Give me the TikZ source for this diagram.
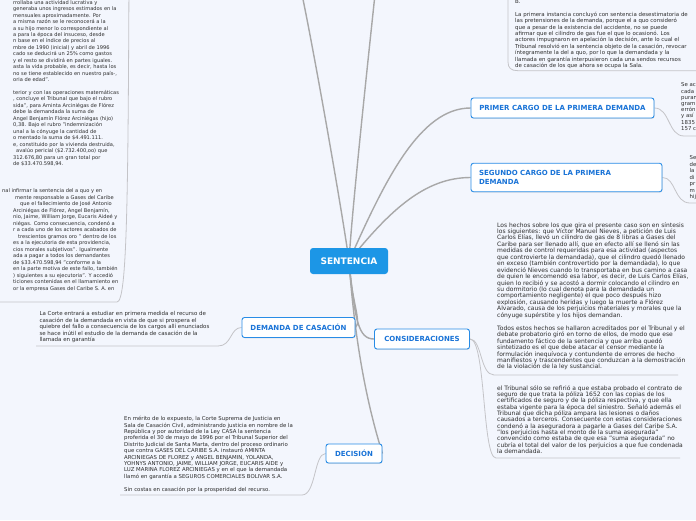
\documentclass[tikz,border=0pt]{standalone}
\usepackage{fontspec}
\setmainfont{DejaVu Sans}
\usetikzlibrary{shadows}
\pgfdeclarelayer{background}
\pgfsetlayers{background,main}
\definecolor{bgc}{RGB}{243,246,253}
\definecolor{topicblue}{RGB}{40,140,230}
\definecolor{topictext}{RGB}{25,115,215}
\definecolor{centralblue}{RGB}{28,150,230}
\definecolor{connc}{RGB}{168,168,168}
\definecolor{thinc}{RGB}{196,196,200}
\definecolor{bodytext}{RGB}{45,45,45}
\begin{document}
\begin{tikzpicture}[x=1pt,y=-1pt,
  txt/.style={font=\fontsize{6}{6.45}\selectfont, align=left, inner sep=0pt, anchor=north west, text=bodytext},
  topic/.style={draw=topicblue, line width=0.9pt, fill=white, rounded corners=2.5pt, text=topictext,
    font=\fontsize{7}{9.4}\selectfont\bfseries, inner sep=0pt,
    drop shadow={shadow xshift=0.5pt, shadow yshift=-0.8pt, opacity=0.22}},
  central/.style={fill=centralblue, rounded corners=3pt, text=white, font=\fontsize{9}{10}\selectfont\bfseries,
    minimum width=78pt, minimum height=26pt, inner sep=0pt},
  mainc/.style={draw=connc, line width=1.4pt},
  subc/.style={draw=thinc, line width=0.8pt}
]
\useasboundingbox (0,0) rectangle (696,520);

% ---------- topic nodes ----------
\node[central] (sent) at (349,261) {SENTENCIA};
\node[topic, minimum width=183pt, minimum height=20pt] (prim) at (562.5,108) {PRIMER CARGO DE LA PRIMERA DEMANDA};
\node[topic, minimum width=191pt, minimum height=28.5pt, align=left, text width=175pt] (seg) at (566.5,177.5) {SEGUNDO CARGO DE LA PRIMERA\\DEMANDA};
\node[topic, minimum width=113pt, minimum height=20pt] (dem) at (298.5,327.5) {DEMANDA DE CASACIÓN};
\node[topic, minimum width=95pt, minimum height=20pt] (cons) at (422,339) {CONSIDERACIONES};
\node[topic, minimum width=56pt, minimum height=19pt] (dec) at (354,453.5) {DECISIÓN};

% ---------- text blocks ----------
\node[txt, font=\fontsize{5.1}{6.45}\selectfont] (lb1) at (13,-0.2) {\rule{0pt}{4.2pt}rrollaba una actividad lucrativa y\\
generaba unos ingresos estimados en la\\
mensuales aproximadamente. Por\\
a misma razón se le reconocerá a la\\
a su hijo menor lo correspondiente al\\
a para la época del insuceso, desde\\
n base en el índice de precios al\\
mbre de 1990 (inicial) y abril de 1996\\
cado se deducirá un 25\% como gastos\\
y el resto se dividirá en partes iguales.\\
asta la vida probable, es decir, hasta los\\
no se tiene establecido en nuestro país-,\\
oria de edad".\\[6.45pt]
terior y con las operaciones matemáticas\\
, concluye el Tribunal que bajo el rubro\\
sida", para Aminta Arciniégas de Flórez\\
debe la demandada la suma de\\
Angel Benjamín Flórez Arciniégas (hijo)\\
0,38. Bajo el rubro "indemnización\\
unal a la cónyuge la cantidad de\\
o mentado la suma de \$4.491.111.\\
e, constituido por la vivienda destruida,\\
\hspace*{3pt}avalúo pericial (\$2.732.400,oo) que\\
312.676,80 para un gran total por\\
de \$33.470.598,94.};

\node[txt, font=\fontsize{5.1}{6.5}\selectfont] (lb2) at (2,188.2) {\rule{0pt}{4.2pt}nal infirmar la sentencia del a quo y en\\
\hspace*{13pt}mente responsable a Gases del Caribe\\
\hspace*{18pt}que el fallecimiento de José Antonio\\
\hspace*{11pt}Arciniégas de Flórez, Angel Benjamín,\\
\hspace*{11pt}nio, Jaime, William Jorge, Eucaris Aideé y\\
\hspace*{11pt}niégas. Como consecuencia, condenó a\\
\hspace*{11pt}r a cada uno de los actores acabados de\\
\hspace*{16pt}trescientos gramos oro " dentro de los\\
\hspace*{11pt}es a la ejecutoria de esta providencia,\\
\hspace*{11pt}cios morales subjetivos". Igualmente\\
\hspace*{11pt}ada a pagar a todos los demandantes\\
\hspace*{11pt}de \$33.470.598,94 "conforme a la\\
\hspace*{11pt}en la parte motiva de este fallo, también\\
\hspace*{11pt}) siguientes a su ejecutoria". Y accedió\\
\hspace*{11pt}ticiones contenidas en el llamamiento en\\
\hspace*{11pt}or la empresa Gases del Caribe S. A. en};

\node[txt, font=\fontsize{5.45}{6.4}\selectfont] (trb) at (515,-1.1) {\rule{0pt}{4.4pt}B.\\[6.4pt]
La primera instancia concluyó con sentencia desestimatoria de\\
las pretensiones de la demanda, porque el a quo consideró\\
que a pesar de la existencia del accidente, no se puede\\
afirmar que el cilindro de gas fue el que lo ocasionó. Los\\
actores impugnaron en apelación la decisión, ante lo cual el\\
Tribunal resolvió en la sentencia objeto de la casación, revocar\\
íntegramente la del a quo, por lo que la demandada y la\\
llamada en garantía interpusieron cada una sendos recursos\\
de casación de los que ahora se ocupa la Sala.};

\node[txt, font=\fontsize{5.4}{6.2}\selectfont] (pct) at (681,82.3) {\rule{0pt}{4.4pt}Se ac\\cada\\puran\\gram\\errón\\y así\\1835\\157 c};
\node[txt, font=\fontsize{5.4}{6.5}\selectfont] (sct) at (689.5,155) {\rule{0pt}{4.4pt}Se\\de\\la\\di\\pr\\m\\hij};

\node[txt] (cta) at (497,222) {\rule{0pt}{4.6pt}Los hechos sobre los que gira el presente caso son en síntesis\\
los siguientes: que Víctor Manuel Nieves, a petición de Luis\\
Carlos Elías, llevó un cilindro de gas de 8 libras a Gases del\\
Caribe para ser llenado allí, que en efecto allí se llenó sin las\\
medidas de control requeridas para esa actividad (aspectos\\
que controvierte la demandada), que el cilindro quedó llenado\\
en exceso (también controvertido por la demandada), lo que\\
evidenció Nieves cuando lo transportaba en bus camino a casa\\
de quien le encomendó esa labor, es decir, de Luis Carlos Elías,\\
quien lo recibió y se acostó a dormir colocando el cilindro en\\
su dormitorio (lo cual denota para la demandada un\\
comportamiento negligente) el que poco después hizo\\
explosión, causando heridas y luego la muerte a Flórez\\
Alvarado, causa de los perjuicios materiales y morales que la\\
cónyuge supérstite y los hijos demandan.\\[6.45pt]
Todos estos hechos se hallaron acreditados por el Tribunal y el\\
debate probatorio giró en torno de ellos, de modo que ese\\
fundamento fáctico de la sentencia y que arriba quedó\\
sintetizado es el que debe atacar el censor mediante la\\
formulación inequívoca y contundente de errores de hecho\\
manifiestos y trascendentes que conduzcan a la demostración\\
de la violación de la ley sustancial.};

\node[txt, font=\fontsize{6}{6.3}\selectfont] (ctb) at (497,385.3) {\rule{0pt}{4.6pt}el Tribunal sólo se refirió a que estaba probado el contrato de\\
seguro de que trata la póliza 1652 con las copias de los\\
certificados de seguro y de la póliza respectiva, y que ella\\
estaba vigente para la época del siniestro. Señaló además el\\
Tribunal que dicha póliza ampara las lesiones o daños\\
causados a terceros. Consecuente con estas consideraciones\\
condenó a la aseguradora a pagarle a Gases del Caribe S.A.\\
"los perjuicios hasta el monto de la suma asegurada"\\
convencido como estaba de que esa "suma asegurada" no\\
cubría el total del valor de los perjuicios a que fue condenada\\
la demandada.};

\node[txt, font=\fontsize{5.5}{6.45}\selectfont] (dct) at (39.3,311.2) {\rule{0pt}{4.4pt}La Corte entrará a estudiar en primera medida el recurso de\\
casación de la demandada en vista de que si prospera el\\
quiebre del fallo a consecuencia de los cargos allí enunciados\\
se hace inútil el estudio de la demanda de casación de la\\
llamada en garantía};

\node[txt, font=\fontsize{5.4}{6.4}\selectfont] (dect) at (124,416.1) {\rule{0pt}{4.4pt}En mérito de lo expuesto, la Corte Suprema de Justicia en\\
Sala de Casación Civil, administrando justicia en nombre de la\\
República y por autoridad de la Ley CASA la sentencia\\
proferida el 30 de mayo de 1996 por el Tribunal Superior del\\
Distrito Judicial de Santa Marta, dentro del proceso ordinario\\
que contra GASES DEL CARIBE S.A. instauró AMINTA\\
ARCINIEGAS DE FLOREZ y ANGEL BENJAMIN, YOLANDA,\\
YOHNYS ANTONIO, JAIME, WILLIAM JORGE, EUCARIS AIDE y\\
LUZ MARINA FLOREZ ARCINIEGAS y en el que la demandada\\
llamó en garantía a SEGUROS COMERCIALES BOLIVAR S.A.\\[6.4pt]
Sin costas en casación por la prosperidad del recurso.};

% ---------- connectors ----------
\coordinate (upA) at (300,-15);
\coordinate (upB) at (376,-15);
\coordinate (lp) at (129,-20);
\coordinate (trp) at (508,-10);
\coordinate (lb2e) at (0,302);
\coordinate (trbe) at (697,70.7);
\coordinate (pcte) at (697,136);
\coordinate (scte) at (697,203);
\coordinate (dcte) at (36,346);
\coordinate (ctae) at (678,375);
\coordinate (ctbe) at (680,458);
\coordinate (decte) at (120,495);

\begin{pgfonlayer}{background}
\fill[bgc] (0,0) rectangle (696,520);
\draw[mainc] (sent.center) .. controls (342,210) and (312,40) .. (upA);
\draw[mainc] (sent.center) .. controls (352,210) and (368,60) .. (upB);
\draw[mainc] (sent.center) .. controls (385,180) and (420,108) .. (prim.west);
\draw[mainc] (sent.center) .. controls (390,210) and (425,177.5) .. (seg.west);
\draw[mainc] (sent.center) .. controls (355,320) and (358,339) .. (cons.west);
\draw[mainc] (sent.center) .. controls (351,300) and (362,322) .. (dem.east);
\draw[mainc] (sent.center) .. controls (356,360) and (372,420) .. (dec.east);

\draw[subc] (lp) .. controls (128,200) and (127,302) .. (117,302) -- (lb2e);
\draw[subc] (trp) -- (508,62) .. controls (508,68) and (511,70.7) .. (518,70.7) -- (trbe);
\draw[subc] (prim.east) .. controls (670,108) and (668,136) .. (684,136) -- (pcte);
\draw[subc] (seg.east) .. controls (676,177.5) and (674,203) .. (690,203) -- (scte);
\draw[subc] (dem.west) .. controls (230,327.5) and (232,346) .. (218,346) -- (dcte);
\draw[subc] (cons.east) .. controls (482,339) and (480,375) .. (494,375) -- (ctae);
\draw[subc] (cons.east) .. controls (486,339) and (482,458) .. (496,458) -- (ctbe);
\draw[subc] (dec.west) .. controls (314,453.5) and (316,495) .. (302,495) -- (decte);
\end{pgfonlayer}
\end{tikzpicture}
\end{document}
